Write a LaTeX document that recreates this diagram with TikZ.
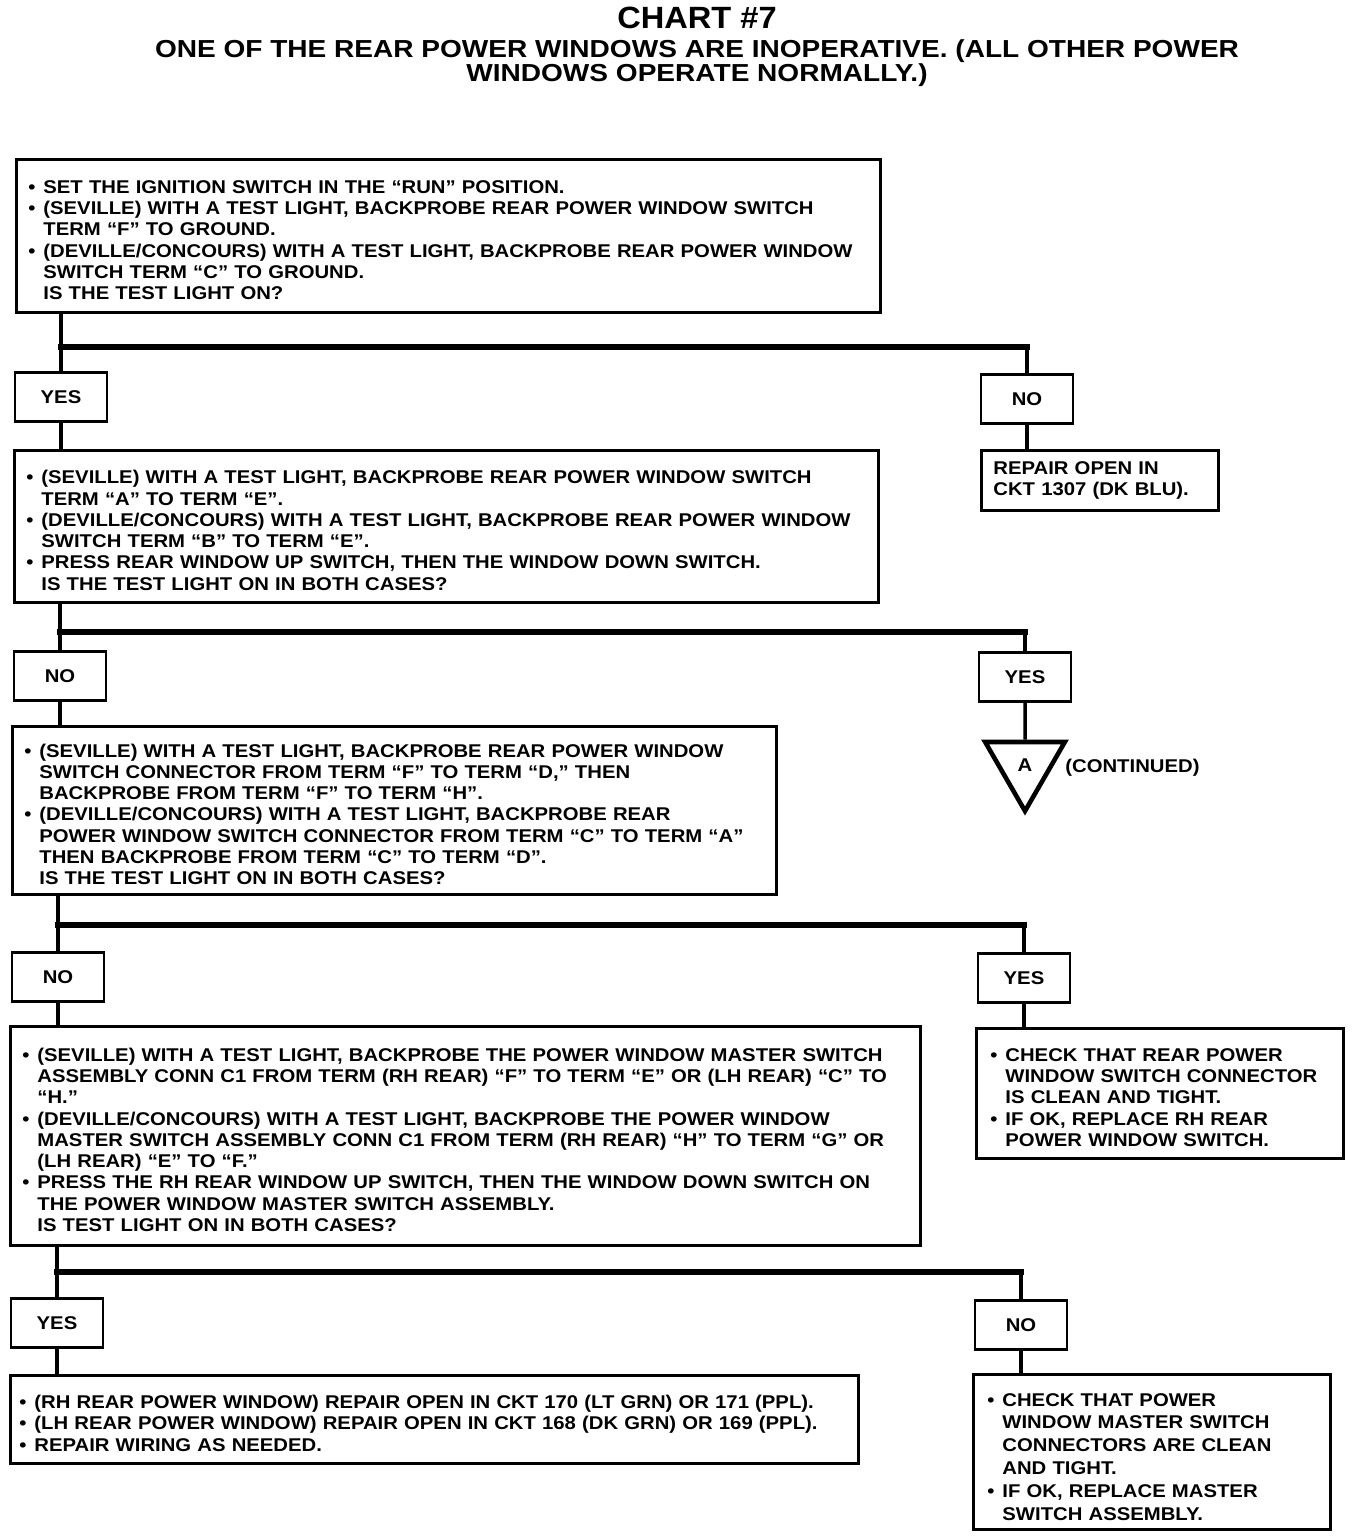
\documentclass[tikz,border=0pt]{standalone}
\usepackage{fontspec}
\setmainfont{Liberation Sans}[FakeStretch=1.1]
\newfontfamily\chartfont{Liberation Sans}[FakeStretch=1.06]
\newfontfamily\headfont{Liberation Sans}[FakeStretch=1.14]
\usetikzlibrary{shapes.geometric}
\tikzstyle{checkbox} = [rectangle, draw=black, line width=1.6pt, anchor=north west, align=left, inner xsep=0.28cm, inner ysep=0.05cm, font=\bfseries\fontsize{10.5}{12.1}\selectfont]
\tikzstyle{answer} = [rectangle, draw=black, line width=1.6pt, minimum width=1.84cm, minimum height=0.98cm, inner sep=0pt, font=\bfseries\fontsize{10.5}{12.1}\selectfont]
\tikzstyle{link} = [line width=2pt]
\tikzstyle{fork} = [line width=3.4pt, line cap=rect]
\newcommand{\puce}{\par\noindent\llap{•\hspace{0.16cm}}}
\newcommand{\retrait}{\par\noindent}

\begin{document}
\begin{tikzpicture}
                \useasboundingbox (0,0) rectangle (27.2,-30.72);
                \node (titre) [font=\chartfont\bfseries\fontsize{17.5}{20}\selectfont] at (13.94,-0.36) {CHART \#7};
                \node (sousTitre) [align=center, font=\headfont\bfseries\fontsize{14}{13.6}\selectfont] at (13.94,-1.26) {ONE OF THE REAR POWER WINDOWS ARE INOPERATIVE. (ALL OTHER POWER\\WINDOWS OPERATE NORMALLY.)};

                \node (testRun) [checkbox, text width=16.72cm, minimum height=3.06cm] at (0.30,-3.16) {\leftskip=0.26cm
                    \puce SET THE IGNITION SWITCH IN THE “RUN” POSITION.
                    \puce (SEVILLE) WITH A TEST LIGHT, BACKPROBE REAR POWER WINDOW SWITCH\\TERM “F” TO GROUND.
                    \puce (DEVILLE/CONCOURS) WITH A TEST LIGHT, BACKPROBE REAR POWER WINDOW\\SWITCH TERM “C” TO GROUND.
                    \retrait IS THE TEST LIGHT ON?\par};
                \coordinate (fork1) at (0,-6.94);
                \node (yes1) [answer] at (1.22,-7.94) {YES};
                \node (no1) [answer] at (20.54,-7.98) {NO};

                \node (testSwitch) [checkbox, text width=16.72cm, minimum height=3.04cm] at (0.26,-8.98) {\leftskip=0.26cm
                    \puce (SEVILLE) WITH A TEST LIGHT, BACKPROBE REAR POWER WINDOW SWITCH\\TERM “A” TO TERM “E”.
                    \puce (DEVILLE/CONCOURS) WITH A TEST LIGHT, BACKPROBE REAR POWER WINDOW\\SWITCH TERM “B” TO TERM “E”.
                    \puce PRESS REAR WINDOW UP SWITCH, THEN THE WINDOW DOWN SWITCH.
                    \retrait IS THE TEST LIGHT ON IN BOTH CASES?\par};
                \node (repairBlu) [checkbox, inner xsep=0.24cm, text width=4.26cm, minimum height=1.20cm] at (19.60,-8.98) {REPAIR OPEN IN\\CKT 1307 (DK BLU).};
                \coordinate (fork2) at (0,-12.64);
                \node (no2) [answer] at (1.20,-13.52) {NO};
                \node (yes2) [answer] at (20.50,-13.54) {YES};

                \node (testConn) [checkbox, text width=14.72cm, minimum height=3.36cm] at (0.22,-14.50) {\leftskip=0.26cm
                    \puce (SEVILLE) WITH A TEST LIGHT, BACKPROBE REAR POWER WINDOW\\SWITCH CONNECTOR FROM TERM “F” TO TERM “D,” THEN\\BACKPROBE FROM TERM “F” TO TERM “H”.
                    \puce (DEVILLE/CONCOURS) WITH A TEST LIGHT, BACKPROBE REAR\\POWER WINDOW SWITCH CONNECTOR FROM TERM “C” TO TERM “A”\\THEN BACKPROBE FROM TERM “C” TO TERM “D”.
                    \retrait IS THE TEST LIGHT ON IN BOTH CASES?\par};
                \node (pointA) [regular polygon, regular polygon sides=3, shape border rotate=180, draw=black, line width=2.6pt, minimum size=1.84cm, inner sep=0pt, font=\bfseries\fontsize{10.5}{12.1}\selectfont] at (20.50,-15.30) {A};
                \node (continued) [anchor=west, inner sep=0pt, font=\bfseries\fontsize{10.5}{12.1}\selectfont] at (21.30,-15.36) {(CONTINUED)};
                \coordinate (fork3) at (0,-18.50);
                \node (no3) [answer] at (1.16,-19.54) {NO};
                \node (yes3) [answer] at (20.48,-19.56) {YES};

                \node (testMaster) [checkbox, text width=17.64cm, minimum height=4.38cm] at (0.18,-20.50) {\leftskip=0.26cm
                    \puce (SEVILLE) WITH A TEST LIGHT, BACKPROBE THE POWER WINDOW MASTER SWITCH\\ASSEMBLY CONN C1 FROM TERM (RH REAR) “F” TO TERM “E” OR (LH REAR) “C” TO\\“H.”
                    \puce (DEVILLE/CONCOURS) WITH A TEST LIGHT, BACKPROBE THE POWER WINDOW\\MASTER SWITCH ASSEMBLY CONN C1 FROM TERM (RH REAR) “H” TO TERM “G” OR\\(LH REAR) “E” TO “F.”
                    \puce PRESS THE RH REAR WINDOW UP SWITCH, THEN THE WINDOW DOWN SWITCH ON\\THE POWER WINDOW MASTER SWITCH ASSEMBLY.
                    \retrait IS TEST LIGHT ON IN BOTH CASES?\par};
                \node (replaceSwitch) [checkbox, inner xsep=0.32cm, text width=6.70cm, minimum height=2.60cm] at (19.50,-20.54) {\leftskip=0.26cm
                    \puce CHECK THAT REAR POWER\\WINDOW SWITCH CONNECTOR\\IS CLEAN AND TIGHT.
                    \puce IF OK, REPLACE RH REAR\\POWER WINDOW SWITCH.\par};
                \coordinate (fork4) at (0,-25.44);
                \node (yes4) [answer] at (1.14,-26.46) {YES};
                \node (no4) [answer] at (20.42,-26.50) {NO};

                \node (repairWiring) [checkbox, inner xsep=0.22cm, text width=16.52cm, minimum height=1.76cm] at (0.18,-27.48) {\leftskip=0.26cm
                    \puce (RH REAR POWER WINDOW) REPAIR OPEN IN CKT 170 (LT GRN) OR 171 (PPL).
                    \puce (LH REAR POWER WINDOW) REPAIR OPEN IN CKT 168 (DK GRN) OR 169 (PPL).
                    \puce REPAIR WIRING AS NEEDED.\par};
                \node (replaceMaster) [checkbox, inner xsep=0.32cm, text width=6.50cm, minimum height=3.10cm, font=\bfseries\fontsize{10.5}{13}\selectfont] at (19.44,-27.46) {\leftskip=0.26cm
                    \puce CHECK THAT POWER\\WINDOW MASTER SWITCH\\CONNECTORS ARE CLEAN\\AND TIGHT.
                    \puce IF OK, REPLACE MASTER\\SWITCH ASSEMBLY.\par};

                \draw[link] (yes1.north |- testRun.south) -- (yes1.north);
                \draw[fork] (yes1.north |- fork1) -- (no1.north |- fork1);
                \draw[link] (no1.north |- fork1) -- (no1.north);
                \draw[link] (yes1.south) -- (yes1.south |- testSwitch.north);
                \draw[link] (no1.south) -- (no1.south |- repairBlu.north);

                \draw[link] (no2.north |- testSwitch.south) -- (no2.north);
                \draw[fork] (no2.north |- fork2) -- (yes2.north |- fork2);
                \draw[link] (yes2.north |- fork2) -- (yes2.north);
                \draw[link] (no2.south) -- (no2.south |- testConn.north);
                \draw[link] (yes2.south) -- (pointA.north);

                \draw[link] (no3.north |- testConn.south) -- (no3.north);
                \draw[fork] (no3.north |- fork3) -- (yes3.north |- fork3);
                \draw[link] (yes3.north |- fork3) -- (yes3.north);
                \draw[link] (no3.south) -- (no3.south |- testMaster.north);
                \draw[link] (yes3.south) -- (yes3.south |- replaceSwitch.north);

                \draw[link] (yes4.north |- testMaster.south) -- (yes4.north);
                \draw[fork] (yes4.north |- fork4) -- (no4.north |- fork4);
                \draw[link] (no4.north |- fork4) -- (no4.north);
                \draw[link] (yes4.south) -- (yes4.south |- repairWiring.north);
                \draw[link] (no4.south) -- (no4.south |- replaceMaster.north);
            \end{tikzpicture}
\end{document}
